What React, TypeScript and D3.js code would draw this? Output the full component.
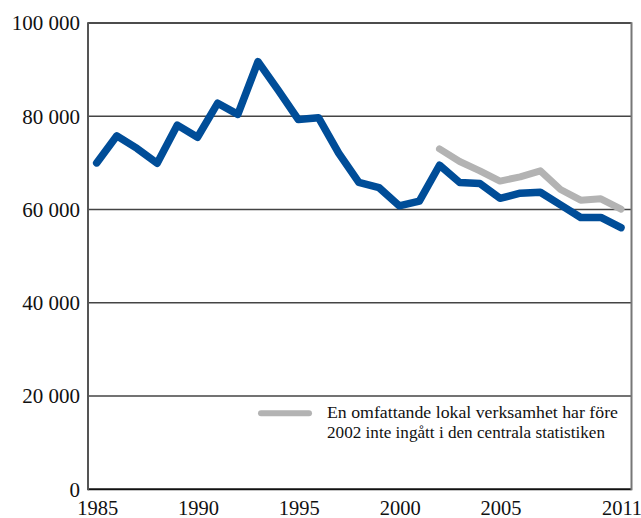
import React from "react";
import * as d3 from "d3";

const years = d3.range(1985, 2012);
const mainValues = [70000, 75800, 73100, 69900, 78100, 75500, 82800, 80400, 91700, 85600, 79300, 79700, 72100, 65800, 64700, 60800, 61800, 69500, 65800, 65600, 62400, 63500, 63700, 61000, 58300, 58300, 56100];
const extraYears = d3.range(2002, 2012);
const extraValues = [73000, 70300, 68300, 66100, 67000, 68300, 64300, 62000, 62300, 60100];
const yTicks = [0, 20000, 40000, 60000, 80000, 100000];
const xTickYears = [1985, 1990, 1995, 2000, 2005, 2011];
const legendLines = ["En omfattande lokal verksamhet har före", "2002 inte ingått i den centrala statistiken"];
const legendWidths = [291, 278];

const W = 641, H = 518;
const left = 88, right = 631.5, top = 23, bottom = 489.3;

export default function App() {
  const x = d3.scaleLinear().domain([1984.57, 2011.52]).range([left, right]);
  const y = d3.scaleLinear().domain([0, 100000]).range([bottom, top]);
  const line = d3.line<[number, number]>().x(d => x(d[0])).y(d => y(d[1]));
  const mainPath = line(years.map((yr, i) => [yr, mainValues[i]] as [number, number])) || "";
  const extraPath = line(extraYears.map((yr, i) => [yr, extraValues[i]] as [number, number])) || "";
  const fmt = (v: number) => (v >= 1000 ? d3.format(",")(v).replace(/,/g, " ") : String(v));
  const font = "'Liberation Serif', 'DejaVu Serif', serif";
  return (
    <svg width={W} height={H} style={{ position: "absolute", left: 0, top: 0, background: "#fff" }} fontFamily={font}>
      {yTicks.filter(t => t > 0 && t < 100000).map(t => (
        <line key={t} x1={left} x2={right} y1={y(t)} y2={y(t)} stroke="#444" strokeWidth={1.5} />
      ))}
      <line x1={left} x2={right} y1={y(100000)} y2={y(100000)} stroke="#111" strokeWidth={1.5} />
      <line x1={left} x2={right} y1={y(0)} y2={y(0)} stroke="#111" strokeWidth={2} />
      <line x1={left} x2={left} y1={top - 0.75} y2={bottom + 1} stroke="#555" strokeWidth={2} />
      <line x1={right} x2={right} y1={top - 0.75} y2={bottom + 1} stroke="#777" strokeWidth={2} />
      {yTicks.map(t => (
        <text key={t} x={80} y={y(t)} dy="0.35em" textAnchor="end" fontSize={21} fill="#111">{fmt(t)}</text>
      ))}
      {xTickYears.map(t => (
        <text key={t} x={x(t) + 1} y={514.5} textAnchor="middle" fontSize={20.5} fill="#111">{t}</text>
      ))}
      <path d={extraPath} fill="none" stroke="#b3b3b3" strokeWidth={7} strokeLinejoin="round" strokeLinecap="round" />
      <path d={mainPath} fill="none" stroke="#004d98" strokeWidth={7.5} strokeLinejoin="round" strokeLinecap="round" />
      <line x1={261} x2={309} y1={413.3} y2={413.3} stroke="#b3b3b3" strokeWidth={6} strokeLinecap="round" />
      {legendLines.map((s, i) => (
        <text key={i} x={327} y={418 + i * 19.5} fontSize={16.5} textLength={legendWidths[i]} lengthAdjust="spacingAndGlyphs" fill="#111">{s}</text>
      ))}
    </svg>
  );
}
